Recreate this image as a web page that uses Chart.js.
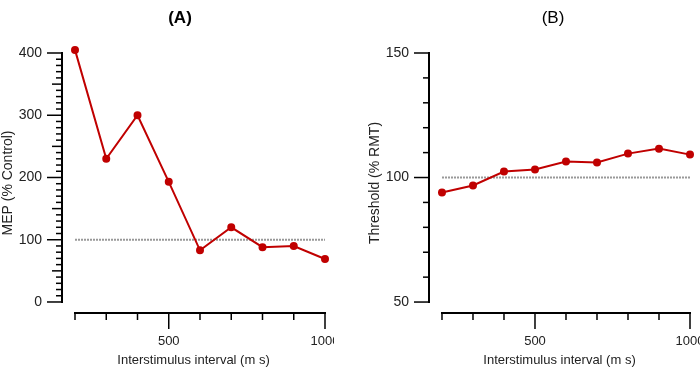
<!DOCTYPE html>
<html>
<head>
<meta charset="utf-8">
<script src="https://cdn.jsdelivr.net/npm/chart.js@4"></script>
<style>
  body { margin: 0; background: #fff; }
  #wrap { position: relative; width: 700px; height: 377px; }
  #chartA { position: absolute; left: 0; top: 0; }
  #chartB { position: absolute; left: 350px; top: 0; }
</style>
</head>
<body>
<div id="wrap">
  <canvas id="chartA" width="334" height="377"></canvas>
  <canvas id="chartB" width="350" height="377"></canvas>
</div>
<script>
Chart.defaults.font.family = 'Liberation Sans';
Chart.defaults.font.size = 13;
Chart.defaults.color = '#222';

// data
const intervals = [200, 300, 400, 500, 600, 700, 800, 900, 1000];
const mepValues = [405, 230, 300, 193, 83, 120, 88, 90, 69];
const thresholdValues = [94, 96.8, 102.4, 103.2, 106.4, 106, 109.6, 111.6, 109.2];
const controlLevel = [100, 100, 100, 100, 100, 100, 100, 100, 100];
const mepTicks = [0, 100, 200, 300, 400];
const thresholdTicks = [50, 100, 150];
const xTicks = [500, 1000];

const red = '#c00000';
const pts = vals => intervals.map((x, i) => ({ x: x, y: vals[i] }));

// axis lines + major/minor tick marks, drawn through the chart's scales
const axisMarks = {
  id: 'axisMarks',
  afterDraw(chart, args, o) {
    const { ctx, chartArea } = chart;
    const xs = chart.scales.x, ys = chart.scales.y;
    ctx.save();
    ctx.strokeStyle = '#000';
    ctx.lineCap = 'square';

    const ax = chartArea.left;
    ctx.lineWidth = 2;
    ctx.beginPath();
    ctx.moveTo(ax, ys.getPixelForValue(o.yMin));
    ctx.lineTo(ax, ys.getPixelForValue(o.yMax));
    ctx.stroke();
    ctx.lineWidth = 1.5;
    ctx.lineCap = 'butt';
    for (let v = o.yMin; v <= o.yMax + 1e-6; v += o.yMinor) {
      const py = ys.getPixelForValue(v);
      let len = 6;
      if (Math.abs(v % o.yMajor) < 1e-6) len = 15;
      else if (o.yMid && Math.abs(v % o.yMid) < 1e-6) len = 10;
      ctx.beginPath();
      ctx.moveTo(ax, py);
      ctx.lineTo(ax - len, py);
      ctx.stroke();
    }

    const ay = chartArea.bottom;
    ctx.lineWidth = 2;
    ctx.lineCap = 'square';
    ctx.beginPath();
    ctx.moveTo(xs.getPixelForValue(o.xMin), ay);
    ctx.lineTo(xs.getPixelForValue(o.xMax), ay);
    ctx.stroke();
    ctx.lineWidth = 1.5;
    ctx.lineCap = 'butt';
    for (let v = o.xMin; v <= o.xMax + 1e-6; v += o.xMinor) {
      const px = xs.getPixelForValue(v);
      const len = v % o.xMajor === 0 ? 16 : 7;
      ctx.beginPath();
      ctx.moveTo(px, ay);
      ctx.lineTo(px, ay + len);
      ctx.stroke();
    }
    ctx.restore();
  }
};

// panel letter
const panelLabel = {
  id: 'panelLabel',
  afterDraw(chart, args, o) {
    const ctx = chart.ctx;
    ctx.save();
    ctx.font = o.weight + ' 17px Liberation Sans';
    ctx.fillStyle = '#000';
    ctx.textAlign = 'center';
    ctx.textBaseline = 'middle';
    ctx.fillText(o.text, o.x, o.y);
    ctx.restore();
  }
};

function makeChart(id, cfg) {
  return new Chart(document.getElementById(id), {
    type: 'line',
    data: {
      datasets: [
        { data: pts(cfg.values), borderColor: red, backgroundColor: red, borderWidth: 2,
          pointRadius: 3, pointHoverRadius: 3, tension: 0, clip: false },
        { data: pts(controlLevel), borderColor: '#999', borderWidth: 2, borderDash: [2, 1],
          pointRadius: 0, tension: 0 }
      ]
    },
    options: {
      responsive: false,
      animation: false,
      events: [],
      layout: { padding: { top: 53, right: cfg.padRight, left: 0, bottom: 0 } },
      plugins: {
        legend: { display: false },
        tooltip: { enabled: false },
        axisMarks: cfg.marks,
        panelLabel: cfg.label
      },
      scales: {
        x: {
          type: 'linear',
          min: cfg.xMin,
          max: 1000,
          grid: { display: false, drawTicks: false },
          border: { display: false },
          ticks: { padding: 21, maxRotation: 0, callback: v => String(v) },
          afterBuildTicks: s => { s.ticks = xTicks.map(v => ({ value: v })); },
          afterFit: s => { s.height = 64; s.paddingLeft = 0; s.paddingRight = 0; },
          title: { display: true, text: 'Interstimulus interval (m s)', padding: { top: 0, bottom: 9 } }
        },
        y: {
          min: cfg.yMin,
          max: cfg.yMax,
          grid: { display: false, drawTicks: false },
          border: { display: false },
          ticks: { padding: 20, font: { size: 14 } },
          afterBuildTicks: s => { s.ticks = cfg.ticks.map(v => ({ value: v })); },
          afterFit: s => { s.width = cfg.yWidth; },
          title: { display: true, text: cfg.yTitle, font: { size: 14 }, padding: { top: cfg.yTitlePad, bottom: 0 } }
        }
      }
    },
    plugins: [axisMarks, panelLabel]
  });
}

makeChart('chartA', {
  values: mepValues, ticks: mepTicks, yTitle: 'MEP (% Control)',
  yMin: -17.7, yMax: 400, xMin: 158.4, yWidth: 62, padRight: 9, yTitlePad: 0,
  marks: { yMin: 0, yMax: 400, yMinor: 10, yMid: 50, yMajor: 100, xMin: 200, xMax: 1000, xMinor: 100, xMajor: 500 },
  label: { text: '(A)', x: 180, y: 18, weight: 'bold' }
});

makeChart('chartB', {
  values: thresholdValues, ticks: thresholdTicks, yTitle: 'Threshold (% RMT)',
  yMin: 45.6, yMax: 150, xMin: 158.1, yWidth: 79, padRight: 10, yTitlePad: 17,
  marks: { yMin: 50, yMax: 150, yMinor: 10, yMid: 0, yMajor: 50, xMin: 200, xMax: 1000, xMinor: 100, xMajor: 500 },
  label: { text: '(B)', x: 203, y: 18, weight: 'normal' }
});
</script>
</body>
</html>
